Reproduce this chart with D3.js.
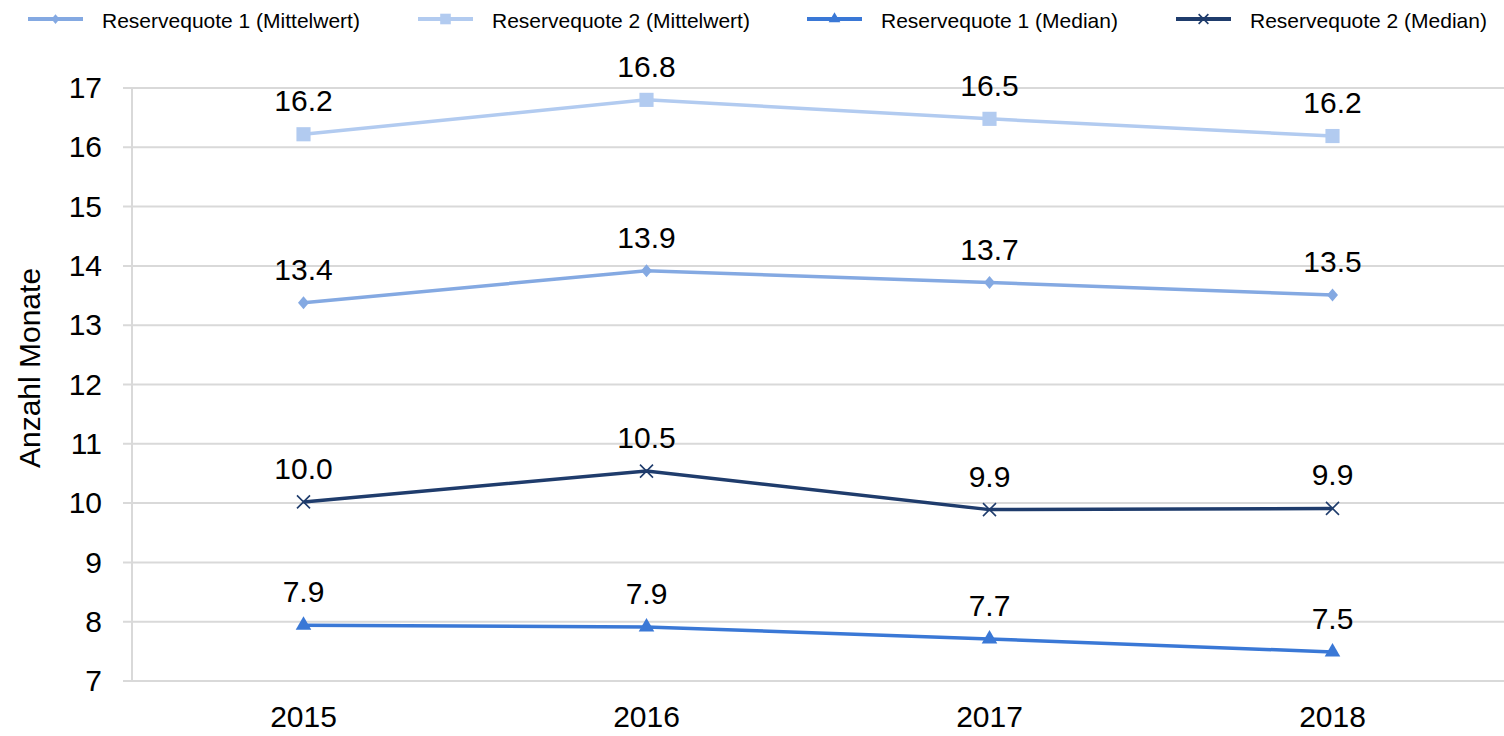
<!DOCTYPE html>
<html>
<head>
<meta charset="utf-8">
<script src="https://cdn.jsdelivr.net/npm/d3@7"></script>
<style>
  body { margin: 0; background: #fff; font-family: Arial, "Liberation Sans", sans-serif; }
</style>
</head>
<body>
<svg id="chart" width="1504" height="736"></svg>
<script>
// Daten
const years = ["2015", "2016", "2017", "2018"]
const seriesNames = ["Reservequote 1 (Mittelwert)", "Reservequote 2 (Mittelwert)", "Reservequote 1 (Median)", "Reservequote 2 (Median)"]
const rq1Mean = [13.38, 13.92, 13.72, 13.51]
const rq2Mean = [16.22, 16.80, 16.48, 16.19]
const rq1Median = [7.94, 7.91, 7.71, 7.49]
const rq2Median = [10.02, 10.54, 9.89, 9.91]
const yTicks = [7, 8, 9, 10, 11, 12, 13, 14, 15, 16, 17]

const colors = ["#84a9e2", "#b2cbf0", "#3a78d6", "#1f3c6c"]
const symbols = ["diamond", "square", "triangle", "cross"]
const series = [rq1Mean, rq2Mean, rq1Median, rq2Median].map((v, i) => ({
  name: seriesNames[i], values: v, color: colors[i], symbol: symbols[i]
}))

const margin = {top: 88, right: 0, bottom: 55, left: 132}
const width = 1504 - margin.left - margin.right
const height = 736 - margin.top - margin.bottom
const font = "Arial, 'Liberation Sans', sans-serif"

const svg = d3.select("#chart")
const g = svg.append("g").attr("transform", "translate(" + margin.left + "," + margin.top + ")")

const x = d3.scaleBand().domain(years).range([0, width])
const y = d3.scaleLinear().domain([7, 17]).range([593, 0])

// Gitterlinien
g.append("g")
  .selectAll("line")
  .data(yTicks)
  .enter()
  .append("line")
    .attr("x1", -9)
    .attr("x2", width)
    .attr("y1", d => y(d))
    .attr("y2", d => y(d))
    .attr("stroke", "#d9d9d9")
    .attr("stroke-width", 2)

// Y-Achse
g.append("line")
  .attr("x1", 0).attr("x2", 0)
  .attr("y1", y(17)).attr("y2", y(7))
  .attr("stroke", "#d9d9d9").attr("stroke-width", 2)

const yAxis = g.append("g")
  .call(d3.axisLeft(y).tickValues(yTicks).tickSize(0).tickPadding(30))
yAxis.select(".domain").remove()
yAxis.selectAll("text")
  .attr("font-size", 30)
  .attr("font-family", font)
  .attr("fill", "#000")

// X-Achse
const xAxis = g.append("g")
  .attr("transform", "translate(0," + y(7) + ")")
  .call(d3.axisBottom(x).tickSize(0).tickPadding(25))
xAxis.select(".domain").remove()
xAxis.selectAll("text")
  .attr("font-size", 30)
  .attr("font-family", font)
  .attr("fill", "#000")

// Achsentitel
svg.append("text")
  .attr("transform", "translate(40,368) rotate(-90)")
  .attr("text-anchor", "middle")
  .attr("font-size", 30)
  .attr("fill", "#000")
  .text("Anzahl Monate")

const line = d3.line()
  .x((d, i) => x(years[i]) + x.bandwidth() / 2)
  .y(d => y(d))

function marker(sel, s, k) {
  if (s.symbol === "cross") {
    const r = 6.5 * k
    sel.append("path")
      .attr("d", `M${-r},${-r}L${r},${r}M${-r},${r}L${r},${-r}`)
      .attr("stroke", s.color)
      .attr("stroke-width", 1.6)
      .attr("fill", "none")
  } else if (s.symbol === "diamond") {
    const w = 5.5 * k, h = 6.5 * k
    sel.append("path")
      .attr("d", `M0,${-h}L${w},0L0,${h}L${-w},0Z`)
      .attr("fill", s.color)
  } else {
    const type = s.symbol === "square" ? d3.symbolSquare : d3.symbolTriangle
    const size = s.symbol === "square" ? 200 : 105
    sel.append("path")
      .attr("d", d3.symbol().type(type).size(size * k * k))
      .attr("fill", s.color)
  }
}

series.forEach(s => {
  const sg = g.append("g")
  sg.append("path")
    .datum(s.values)
    .attr("d", line)
    .attr("fill", "none")
    .attr("stroke", s.color)
    .attr("stroke-width", 3.5)

  s.values.forEach((v, i) => {
    const m = sg.append("g")
      .attr("transform", "translate(" + (x(years[i]) + x.bandwidth() / 2) + "," + y(v) + ")")
    marker(m, s, 1)

    sg.append("text")
      .attr("x", x(years[i]) + x.bandwidth() / 2)
      .attr("y", y(v) - 23)
      .attr("text-anchor", "middle")
      .attr("font-size", 30)
      .attr("fill", "#000")
      .text(d3.format(".1f")(v))
  })
})

// Legende
const legendX = [28, 418, 807, 1176]
series.forEach((s, i) => {
  const lg = svg.append("g").attr("transform", "translate(" + legendX[i] + ",19)")
  lg.append("line")
    .attr("x1", 0).attr("x2", 55)
    .attr("stroke", s.color).attr("stroke-width", 4)
  const m = lg.append("g").attr("transform", "translate(27.5,0)")
  marker(m, s, 0.75)
  lg.append("text")
    .attr("x", 74)
    .attr("y", 9)
    .attr("font-size", 21)
    .attr("fill", "#000")
    .text(s.name)
})
</script>
</body>
</html>
